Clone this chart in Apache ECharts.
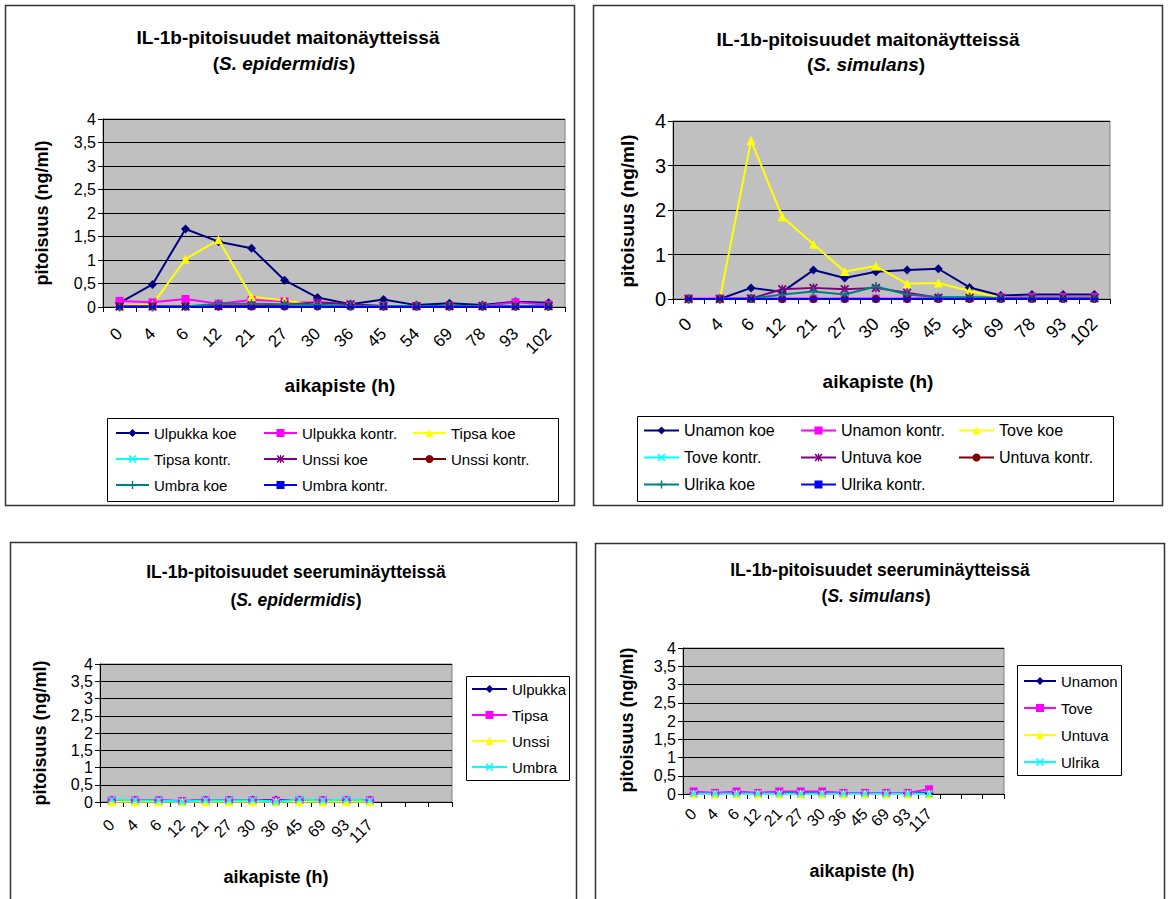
<!DOCTYPE html>
<html><head><meta charset="utf-8">
<script src="https://cdn.jsdelivr.net/npm/echarts@6/dist/echarts.min.js"></script>
<style>html,body{margin:0;padding:0;background:#fff}#c{width:1168px;height:899px}</style>
</head><body><div id="c"></div>
<script>
// ---------- DATA ----------
const catsMilk = ['0','4','6','12','21','27','30','36','45','54','69','78','93','102'];
const catsSerum = ['0','4','6','12','21','27','30','36','45','69','93','117','','',''];
const yTicksA = [0,0.5,1,1.5,2,2.5,3,3.5,4];
const yTicksB = [0,1,2,3,4];

// S. epidermidis, milk
const ulpukkaKoe   = [0.09,0.48,1.66,1.39,1.25,0.57,0.20,0.06,0.16,0.04,0.08,0.04,0.11,0.09];
const ulpukkaKontr = [0.13,0.10,0.17,0.07,0.15,0.12,0.08,0.03,0.02,0.02,0.02,0.02,0.10,0.05];
const tipsaKoe     = [0.02,0.05,1.02,1.43,0.22,0.14,0.05,0.02,0.02,0.02,0.02,0.02,0.02,0.02];
const tipsaKontr   = [0.01,0.01,0.01,0.01,0.01,0.01,0.01,0.01,0.01,0.01,0.01,0.01,0.01,0.01];
const unssiKoe     = [0.01,0.01,0.01,0.02,0.03,0.05,0.10,0.06,0.02,0.02,0.02,0.02,0.02,0.02];
const unssiKontr   = [0.01,0.01,0.01,0.01,0.01,0.01,0.01,0.01,0.01,0.01,0.01,0.01,0.01,0.01];
const umbraKoe     = [0.00,0.00,0.01,0.07,0.07,0.06,0.05,0.02,0.02,0.02,0.02,0.02,0.02,0.02];
const umbraKontr   = [0,0,0,0,0,0,0,0,0,0,0,0,0,0];

// S. simulans, milk
const unamonKoe    = [0,0,0.25,0.16,0.65,0.47,0.61,0.65,0.68,0.26,0.08,0.10,0.10,0.10];
const unamonKontr  = [0.01,0.01,0.01,0.01,0.01,0.01,0.01,0.01,0.02,0.02,0.04,0.05,0.05,0.05];
const toveKoe      = [0,0,3.56,1.85,1.23,0.62,0.74,0.34,0.36,0.18,0.03,0.03,0.03,0.03];
const toveKontr    = [0,0,0,0,0,0,0,0,0,0,0,0,0,0];
const untuvaKoe    = [0,0,0.01,0.22,0.25,0.22,0.25,0.14,0.03,0.03,0.02,0.02,0.02,0.02];
const untuvaKontr  = [0,0,0,0,0,0,0,0,0,0,0,0,0,0];
const ulrikaKoe    = [0,0,0.01,0.10,0.17,0.10,0.28,0.10,0.04,0.04,0.02,0.02,0.02,0.02];
const ulrikaKontr  = [0,0,0,0,0,0,0,0,0,0,0,0,0,0];

// S. epidermidis, serum
const ulpukkaS = [0.05,0.05,0.04,0.02,0.06,0.05,0.06,0.06,0.05,0.04,0.05,0.05];
const tipsaS   = [0.06,0.05,0.05,0.03,0.05,0.05,0.05,0.04,0.06,0.05,0.06,0.05];
const unssiS   = [0.01,0.01,0.01,0.01,0.01,0.01,0.01,0.01,0.01,0.01,0.01,0.01];
const umbraS   = [0.07,0.05,0.04,0.01,0.05,0.04,0.05,0.01,0.07,0.04,0.07,0.04];

// S. simulans, serum
const unamonS = [0.02,0.02,0.02,0.02,0.02,0.02,0.02,0.02,0.02,0.02,0.02,0.02];
const toveS   = [0.07,0.03,0.07,0.03,0.07,0.07,0.07,0.03,0.03,0.03,0.03,0.13];
const untuvaS = [0,0,0,0,0,0,0,0,0,0,0,0];
const ulrikaS = [0.01,0.01,0.01,0.01,0.01,0.01,0.01,0.01,0.01,0.01,0.01,0.01];

// ---------- STYLES ----------
const FF = "'Liberation Sans', Arial, sans-serif";
const X_PATH = 'path://M0,1.4L1.4,0L5,3.6L8.6,0L10,1.4L6.4,5L10,8.6L8.6,10L5,6.4L1.4,10L0,8.6L3.6,5Z';
const STAR_PATH = 'path://M0,1.4L1.4,0L5,3.6L8.6,0L10,1.4L6.4,5L10,8.6L8.6,10L5,6.4L1.4,10L0,8.6L3.6,5Z M4.2,0H5.8V10H4.2Z';
const PLUS_PATH = 'path://M4.1,0H5.9V4.1H10V5.9H5.9V10H4.1V5.9H0V4.1H4.1Z';
const ST = {
  navy:   {color:'#000080', symbol:'diamond', size:9},
  magenta:{color:'#FF00FF', symbol:'rect', size:8},
  yellow: {color:'#FFFF00', symbol:'triangle', size:9},
  cyan:   {color:'#00FFFF', symbol:X_PATH, size:8},
  purple: {color:'#800080', symbol:STAR_PATH, size:9},
  darkred:{color:'#800000', symbol:'circle', size:8},
  teal:   {color:'#008080', symbol:PLUS_PATH, size:9},
  blue:   {color:'#0000FF', symbol:'rect', size:[7,3]}
};
function ser(name, data, st, idx){
  return {name, type:'line', data, xAxisIndex:idx, yAxisIndex:idx,
    symbol:st.symbol, symbolSize:st.size, showSymbol:true, animation:false,
    lineStyle:{color:st.color, width:2}, itemStyle:{color:st.color},
    emphasis:{disabled:true}};
}
const fmt = v => String(v).replace('.', ',');

// grids
const grids = [
  {left:103, top:119, width:462, height:188},
  {left:673, top:121, width:437, height:178},
  {left:100, top:664, width:352, height:138},
  {left:683, top:648, width:321, height:146}
].map(g => Object.assign(g, {show:true, backgroundColor:'#C0C0C0', borderColor:'#808080', borderWidth:1}));

function xAx(i, cats, fs, mg){
  return {gridIndex:i, type:'category', data:cats, boundaryGap:true,
    axisLine:{lineStyle:{color:'#000', width:1}},
    axisTick:{show:true, interval:0, length:5, lineStyle:{color:'#000'}},
    axisLabel:{interval:0, rotate:45, color:'#000', fontSize:fs, fontFamily:FF, margin:mg},
    splitLine:{show:false}};
}
function yAx(i, step, fs){
  return {gridIndex:i, type:'value', min:0, max:4, interval:step,
    axisLine:{show:true, lineStyle:{color:'#000'}},
    axisTick:{show:true, length:5, lineStyle:{color:'#000'}},
    axisLabel:{color:'#000', fontSize:fs, fontFamily:FF, formatter:fmt, margin:7},
    splitLine:{show:true, lineStyle:{color:'#000', width:1}}};
}

const series = [
  ser('Ulpukka koe', ulpukkaKoe, ST.navy, 0),
  ser('Ulpukka kontr.', ulpukkaKontr, ST.magenta, 0),
  ser('Tipsa koe', tipsaKoe, ST.yellow, 0),
  ser('Tipsa kontr.', tipsaKontr, ST.cyan, 0),
  ser('Unssi koe', unssiKoe, ST.purple, 0),
  ser('Unssi kontr.', unssiKontr, ST.darkred, 0),
  ser('Umbra koe', umbraKoe, ST.teal, 0),
  ser('Umbra kontr.', umbraKontr, ST.blue, 0),

  ser('Unamon koe', unamonKoe, ST.navy, 1),
  ser('Unamon kontr.', unamonKontr, ST.magenta, 1),
  ser('Tove koe', toveKoe, ST.yellow, 1),
  ser('Tove kontr.', toveKontr, ST.cyan, 1),
  ser('Untuva koe', untuvaKoe, ST.purple, 1),
  ser('Untuva kontr.', untuvaKontr, ST.darkred, 1),
  ser('Ulrika koe', ulrikaKoe, ST.teal, 1),
  ser('Ulrika kontr.', ulrikaKontr, ST.blue, 1),

  ser('Ulpukka', ulpukkaS, ST.navy, 2),
  ser('Tipsa', tipsaS, ST.magenta, 2),
  ser('Unssi', unssiS, ST.yellow, 2),
  ser('Umbra', umbraS, ST.cyan, 2),

  ser('Unamon', unamonS, ST.navy, 3),
  ser('Tove', toveS, ST.magenta, 3),
  ser('Untuva', untuvaS, ST.yellow, 3),
  ser('Ulrika', ulrikaS, ST.cyan, 3)
];

function leg(names, left, top, fs, gap, iw){
  return {data:names, left, top, orient:'vertical', itemGap:gap, itemWidth:iw, itemHeight:10,
    selectedMode:false, padding:0,
    textStyle:{color:'#000', fontSize:fs, fontFamily:FF, lineHeight:fs+1}};
}
const legends = [
  leg(['Ulpukka koe','Tipsa kontr.','Umbra koe'], 115, 425, 15, 10, 33),
  leg(['Ulpukka kontr.','Unssi koe','Umbra kontr.'], 263, 425, 15, 10, 33),
  leg(['Tipsa koe','Unssi kontr.'], 412, 425, 15, 10, 33),
  leg(['Unamon koe','Tove kontr.','Ulrika koe'], 643, 422, 16, 10, 35),
  leg(['Unamon kontr.','Untuva koe','Ulrika kontr.'], 800, 422, 16, 10, 35),
  leg(['Tove koe','Untuva kontr.'], 958, 422, 16, 10, 35),
  leg(['Ulpukka','Tipsa','Unssi','Umbra'], 471, 681, 15, 10, 35),
  leg(['Unamon','Tove','Untuva','Ulrika'], 1023, 673, 15, 11, 32)
];

function rect(x,y,w,h,stroke,lw){
  return {type:'rect', shape:{x,y,width:w,height:h}, silent:true, z:-10,
    style:{fill:'none', stroke:stroke, lineWidth:lw}};
}
function txt(x,y,text,fs,bold,rot,rich){
  const el = {type:'text', x, y, silent:true, z:10,
    style:{text, fontSize:fs, fontFamily:FF, fontWeight:bold?'bold':'normal', fill:'#000',
      align:'center', verticalAlign:'middle'}};
  if (rot) el.rotation = rot;
  if (rich) el.style.rich = rich;
  return el;
}
function species(x,y,name,fs){
  return txt(x,y,'{n|(}{i|'+name+'}{n|)}',fs,true,0,{
    n:{fontSize:fs, fontFamily:FF, fontWeight:'bold', fill:'#000'},
    i:{fontSize:fs, fontFamily:FF, fontWeight:'bold', fontStyle:'italic', fill:'#000'}});
}

const graphic = [
  rect(5.5,5.5,569,500,'#333',1.5),
  rect(593.5,5.5,569,500,'#333',1.5),
  rect(10.5,542.5,566,360,'#333',1.5),
  rect(595.5,543.5,569,360,'#333',1.5),
  rect(107.5,418.5,451,83,'#000',1),
  rect(637.5,416.5,476,85,'#000',1),
  rect(466.5,676.5,103,104,'#000',1),
  rect(1017.5,665.5,104,110,'#000',1),

  txt(288,37,'IL-1b-pitoisuudet maitonäytteissä',19,true),
  species(284,63,'S. epidermidis',19),
  txt(868,39,'IL-1b-pitoisuudet maitonäytteissä',19,true),
  species(866,64,'S. simulans',19),
  txt(296,572,'IL-1b-pitoisuudet seeruminäytteissä',17.5,true),
  species(296,600,'S. epidermidis',17.5),
  txt(880,570,'IL-1b-pitoisuudet seeruminäytteissä',17.5,true),
  species(876,596,'S. simulans',17.5),

  txt(42,213,'pitoisuus (ng/ml)',18,true,Math.PI/2),
  txt(627,211,'pitoisuus (ng/ml)',19,true,Math.PI/2),
  txt(40,733,'pitoisuus (ng/ml)',18,true,Math.PI/2),
  txt(627,720,'pitoisuus (ng/ml)',18,true,Math.PI/2),

  txt(340,385,'aikapiste (h)',19,true),
  txt(878,381,'aikapiste (h)',19,true),
  txt(276,877,'aikapiste (h)',18,true),
  txt(862,871,'aikapiste (h)',18,true)
];

const chart = echarts.init(document.getElementById('c'), null, {renderer:'svg'});
chart.setOption({
  animation:false,
  backgroundColor:'#fff',
  grid: grids,
  xAxis: [xAx(0,catsMilk,17,24), xAx(1,catsMilk,18,22), xAx(2,catsSerum,16,20), xAx(3,catsSerum,16,17)],
  yAxis: [yAx(0,0.5,16), yAx(1,1,20), yAx(2,0.5,16), yAx(3,0.5,16)],
  legend: legends,
  series,
  graphic
});
</script></body></html>
